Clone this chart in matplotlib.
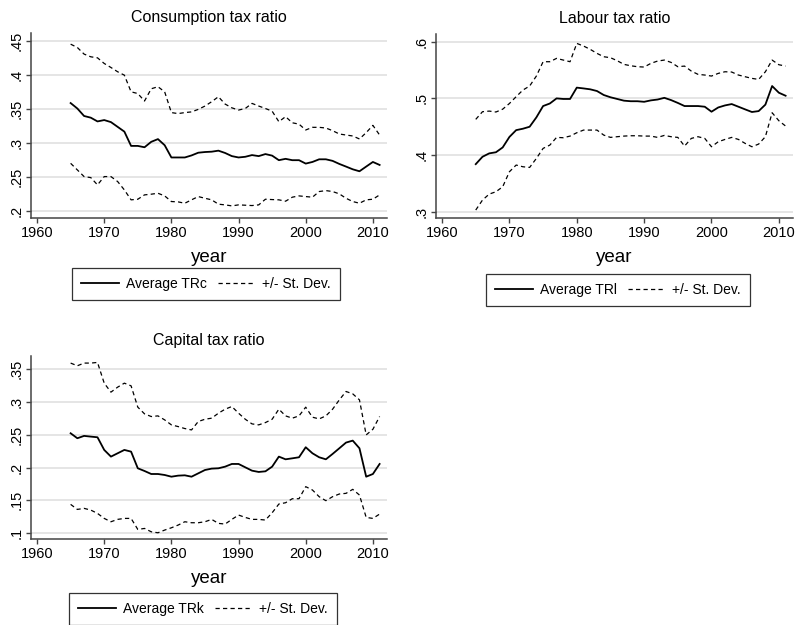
import numpy as np
import matplotlib
matplotlib.use('Agg')
import matplotlib.pyplot as plt

plt.rcParams['font.family'] = ['Liberation Sans', 'DejaVu Sans']

years = np.arange(1965, 2012)

# consumption tax ratio
trc_avg = [.359, .351, .340, .3375, .332, .334, .331, .324, .317, .296, .296, .294, .302, .306, .297,
           .279, .279, .279, .282, .286, .287, .2875, .289, .2856, .281, .279, .280, .2825, .281, .284,
           .2817, .275, .277, .275, .275, .270, .2724, .2763, .2763, .274, .2695, .2656, .2616, .2587,
           .2656, .2724, .268]
trc_hi = [.4456, .4407, .431, .427, .4255, .4172, .4113, .405, .400, .3755, .373, .362, .380, .383,
          .3755, .345, .3435, .345, .346, .3497, .3546, .361, .3683, .3575, .352, .3487, .351, .3585,
          .3546, .351, .347, .3316, .339, .330, .328, .3194, .3233, .3233, .3223, .3184, .3135, .312,
          .3106, .3062, .3155, .3262, .312]
trc_lo = [.2704, .2607, .2509, .2494, .2387, .2509, .2509, .2436, .2313, .2167, .2176, .224, .225,
          .2264, .2225, .2142, .2137, .2117, .2167, .2215, .219, .2167, .2103, .2093, .2078, .2093,
          .2088, .2083, .2093, .2176, .2171, .2167, .2147, .2206, .2225, .2215, .2206, .2289, .2303,
          .2289, .2255, .219, .2142, .2117, .2167, .2176, .224]

# labour tax ratio
trl_avg = [.384, .397, .403, .405, .4135, .432, .444, .4465, .450, .4665, .4865, .491, .500, .499,
           .499, .519, .5176, .516, .513, .506, .502, .499, .496, .495, .495, .494, .4965, .498, .501,
           .497, .492, .4865, .4865, .4865, .4853, .4765, .484, .4876, .490, .4853, .4806, .476,
           .4776, .489, .5218, .510, .5047]
trl_hi = [.463, .4765, .4776, .476, .481, .491, .503, .5147, .5218, .5394, .5647, .5647, .5706, .5676,
          .5647, .597, .5924, .5865, .5794, .5735, .5718, .5665, .560, .5576, .5559, .5553, .5618,
          .5659, .5676, .5635, .5559, .557, .5482, .5424, .5412, .5394, .5441, .547, .5465, .5412,
          .5382, .5353, .5335, .547, .5676, .5594, .557]
trl_lo = [.303, .3206, .3312, .3353, .3441, .3706, .3824, .3794, .3782, .3941, .4118, .4176, .4312,
          .4306, .4335, .4394, .4441, .4441, .4441, .4353, .4312, .4324, .4335, .4341, .4341, .4335,
          .4335, .4312, .4347, .4324, .4312, .4159, .4294, .4324, .4294, .4147, .4235, .4276, .4312,
          .4276, .4206, .4147, .4194, .4324, .4747, .4606, .4512]

# capital tax ratio
trk_avg = [.2522, .2446, .2482, .2471, .2461, .2268, .2166, .2217, .2268, .2242, .1988, .1947, .1901,
           .1901, .1886, .186, .1876, .1881, .186, .1911, .1962, .1983, .1988, .2013, .2054, .2054,
           .2003, .1952, .1932, .1942, .2013, .2166, .2125, .214, .2156, .2309, .2217, .2156, .2125,
           .2207, .2293, .238, .241, .2293, .186, .1901, .2054]
trk_hi = [.3592, .3551, .3592, .3592, .3602, .3286, .3149, .3225, .3286, .3245, .292, .2818, .2777,
          .2787, .2726, .265, .2624, .2594, .2573, .2701, .2736, .2752, .2828, .2889, .293, .2828,
          .2736, .2665, .265, .2685, .2736, .2889, .2787, .2752, .2787, .292, .2767, .2741, .2787,
          .2889, .3031, .3159, .3123, .3031, .2497, .2583, .2777]
trk_lo = [.1438, .1361, .1377, .1351, .13, .1224, .1173, .1209, .1224, .1224, .1056, .1071, .102,
          .1005, .1046, .1081, .1122, .1173, .1158, .1158, .1173, .1209, .1148, .1138, .1209, .1275,
          .1239, .1209, .1209, .1199, .131, .1443, .1463, .1524, .1524, .1708, .1657, .1555, .1494,
          .1555, .1596, .1606, .1667, .158, .1239, .1224, .129]

xticks = [1960, 1970, 1980, 1990, 2000, 2010]
c_ticks = [.2, .25, .3, .35, .4, .45]
c_labels = ['.2', '.25', '.3', '.35', '.4', '.45']
l_ticks = [.3, .4, .5, .6]
l_labels = ['.3', '.4', '.5', '.6']
k_ticks = [.1, .15, .2, .25, .3, .35]
k_labels = ['.1', '.15', '.2', '.25', '.3', '.35']

fig = plt.figure(figsize=(7.99, 6.25), dpi=100)
fig.patch.set_facecolor('white')

panels = [
    ([31 / 799, 1 - 218 / 625, 356 / 799, 185 / 625], 'Consumption tax ratio', trc_avg, trc_hi, trc_lo,
     c_ticks, c_labels, (.190, .462), 'Average TRc', (206 / 799, 1 - 268 / 625)),
    ([436 / 799, 1 - 218 / 625, 357 / 799, 184 / 625], 'Labour tax ratio', trl_avg, trl_hi, trl_lo,
     l_ticks, l_labels, (.289, .6136), 'Average TRl', (618 / 799, 1 - 274 / 625)),
    ([31 / 799, 1 - 539 / 625, 356 / 799, 183 / 625], 'Capital tax ratio', trk_avg, trk_hi, trk_lo,
     k_ticks, k_labels, (.091, .370), 'Average TRk', (203 / 799, 1 - 593 / 625)),
]

for rect, title, avg, hi, lo, yt, yl, ylim, lab, lpos in panels:
    ax = fig.add_axes(rect)
    ax.plot(years, avg, color='black', lw=1.3, label=lab)
    ax.plot(years, hi, color='black', lw=0.9, ls=(0, (3.4, 2.6)), label='+/- St. Dev.')
    ax.plot(years, lo, color='black', lw=0.9, ls=(0, (3.4, 2.6)))
    ax.set_xlim(1959.1, 2012.1)
    ax.set_ylim(*ylim)
    ax.set_xticks(xticks)
    ax.set_yticks(yt)
    ax.set_yticklabels(yl, rotation=90, va='center')
    ax.grid(axis='y', color='#dedede', lw=1.1)
    ax.set_axisbelow(True)
    for s in ['top', 'right']:
        ax.spines[s].set_visible(False)
    for s in ['left', 'bottom']:
        ax.spines[s].set_color('#444444')
        ax.spines[s].set_linewidth(1.1)
    ax.tick_params(direction='out', length=3.5, width=1, color='#444444', labelsize=10.5, pad=2)
    ax.set_title(title, fontsize=11.5, pad=8)
    ax.set_xlabel('year', fontsize=13.5, labelpad=7)
    handles, labels = ax.get_legend_handles_labels()
    leg = fig.legend(handles, labels, loc='upper center', bbox_to_anchor=lpos, ncol=2, fontsize=10,
                     frameon=True, fancybox=False, edgecolor='black', handlelength=2.7,
                     columnspacing=0.8, handletextpad=0.5, borderpad=0.65, borderaxespad=0)
    leg.get_frame().set_linewidth(0.9)

fig.savefig('out.png', dpi=100)
